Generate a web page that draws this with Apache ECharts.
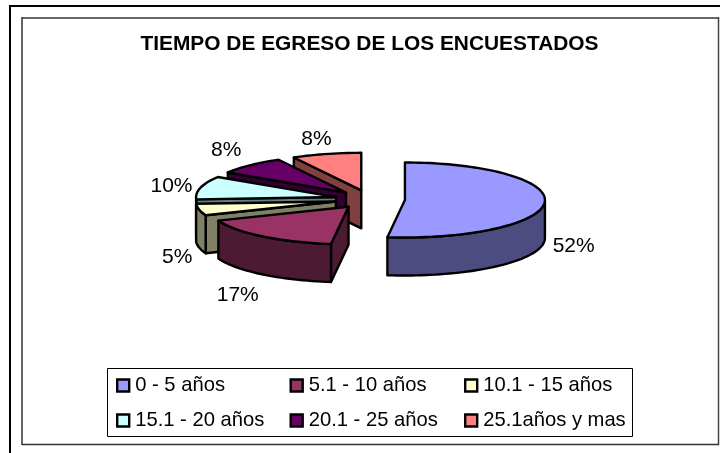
<!DOCTYPE html>
<html><head><meta charset="utf-8">
<style>html,body{margin:0;padding:0;background:#fff}#c{width:720px;height:453px}</style>
<script src="https://cdn.jsdelivr.net/npm/echarts@6/dist/echarts.min.js"></script>
</head><body><div id="c"></div>
<script>
var chartTitle = 'TIEMPO DE EGRESO DE LOS ENCUESTADOS';
var categories = ['0 - 5 años','5.1 - 10 años','10.1 - 15 años','15.1 - 20 años','20.1 - 25 años','25.1años y mas'];
var values = [52,17,5,10,8,8];
var percentLabels = ['52%','17%','5%','10%','8%','8%'];
var topColors = ['#9999FF','#993366','#FFFFCC','#CCFFFF','#660066','#FF8080'];
var sideColors = ['#4C4C80','#4D1A33','#808066','#668080','#330033','#804040'];

// projection of the tilted, exploded pie
var cx = 370, cy = 199.4, rx = 140, ry = 37.5, depth = 38, explode = 35;
var labelNudge = [[29,44],[-25,59],[-22,48],[-29,-2],[-24,-15],[-10,-15]];

var total = values.reduce(function(a,b){return a+b;},0);
var starts = [], acc = 0;
values.forEach(function(v){ starts.push(acc/total*360); acc += v; });
var rad = function(d){ return d*Math.PI/180; };

function arcPoints(c, a, b, dy){
  var pts = [], n = Math.max(2, Math.ceil((b-a)/2));
  for (var k=0;k<=n;k++){
    var t = rad(a+(b-a)*k/n);
    pts.push([c[0]+rx*Math.sin(t), c[1]-ry*Math.cos(t)+dy]);
  }
  return pts;
}
function poly(points, fill){
  return {type:'polygon', shape:{points:points},
    style:{fill:fill, stroke:'#000', lineWidth:2.4, lineJoin:'round'}};
}
function makeRender(i){
  return function(){
    var a = starts[i], b = a + values[i]/total*360, m = rad((a+b)/2);
    var c = [cx+explode*Math.sin(m), cy-explode*Math.cos(m)*ry/rx];
    var kids = [];
    var rimA = arcPoints(c,a,a,0)[0];
    // start wall is visible only for angles in the left half
    if (Math.sin(rad(a)) < 0){
      kids.push(poly([c, rimA, [rimA[0],rimA[1]+depth], [c[0],c[1]+depth]], sideColors[i]));
    }
    var w0 = Math.max(a,90), w1 = Math.min(b,270);
    if (w1 > w0){
      var top = arcPoints(c,w0,w1,0), bot = arcPoints(c,w0,w1,depth).reverse();
      kids.push(poly(top.concat(bot), sideColors[i]));
    }
    kids.push(poly([c].concat(arcPoints(c,a,b,0)), topColors[i]));
    kids.push({type:'text', z2:50, style:{
      x:c[0]+rx*Math.sin(m)+labelNudge[i][0],
      y:c[1]-ry*Math.cos(m)+labelNudge[i][1],
      text:percentLabels[i], fill:'#000', font:'21px "Liberation Sans"',
      align:'center', verticalAlign:'middle'}});
    return {type:'group', children:kids};
  };
}
var series = categories.map(function(name,i){
  return {type:'custom', name:name, coordinateSystem:'none', silent:true, animation:false,
    z: 10-i, clip:false, itemStyle:{color:topColors[i]}, data:[[values[i]]], renderItem:makeRender(i)};
});
function column(names, left){
  return {data:names, orient:'vertical', left:left, top:375.5, itemWidth:12, itemHeight:12, itemGap:15,
    icon:'rect', selectedMode:false, padding:0,
    itemStyle:{borderColor:'#000', borderWidth:2.4},
    textStyle:{color:'#000', fontFamily:'"Liberation Sans"', fontSize:20.2, padding:[0,0,0,1]}};
}
function line(x1,y1,x2,y2,w,col){
  return {type:'line', shape:{x1:x1,y1:y1,x2:x2,y2:y2}, style:{stroke:col,lineWidth:w}, z:0};
}
var chart = echarts.init(document.getElementById('c'), null, {renderer:'canvas'});
chart.setOption({
  animation:false,
  backgroundColor:'#fff',
  title:{text:chartTitle, left:364.5, top:29, textAlign:'center',
    textStyle:{fontFamily:'"Liberation Sans"', fontSize:20.9, fontWeight:'bold', color:'#000'}},
  legend:[column([categories[0],categories[3]],116),
          column([categories[1],categories[4]],289.5),
          column([categories[2],categories[5]],464)],
  graphic:[
    line(9,6,720,6,2,'#000'),
    line(10,5,10,453,2,'#000'),
    line(22,18,719,18,1.5,'#333'),
    line(22,17,22,445,1.5,'#333'),
    line(718.5,17,718.5,445,1.5,'#444'),
    line(22,444.5,719,444.5,1.5,'#333'),
    {type:'rect', shape:{x:107.5,y:368.5,width:525,height:68}, style:{fill:'none',stroke:'#000',lineWidth:1}, z:0}
  ],
  series:series
});
</script></body></html>
